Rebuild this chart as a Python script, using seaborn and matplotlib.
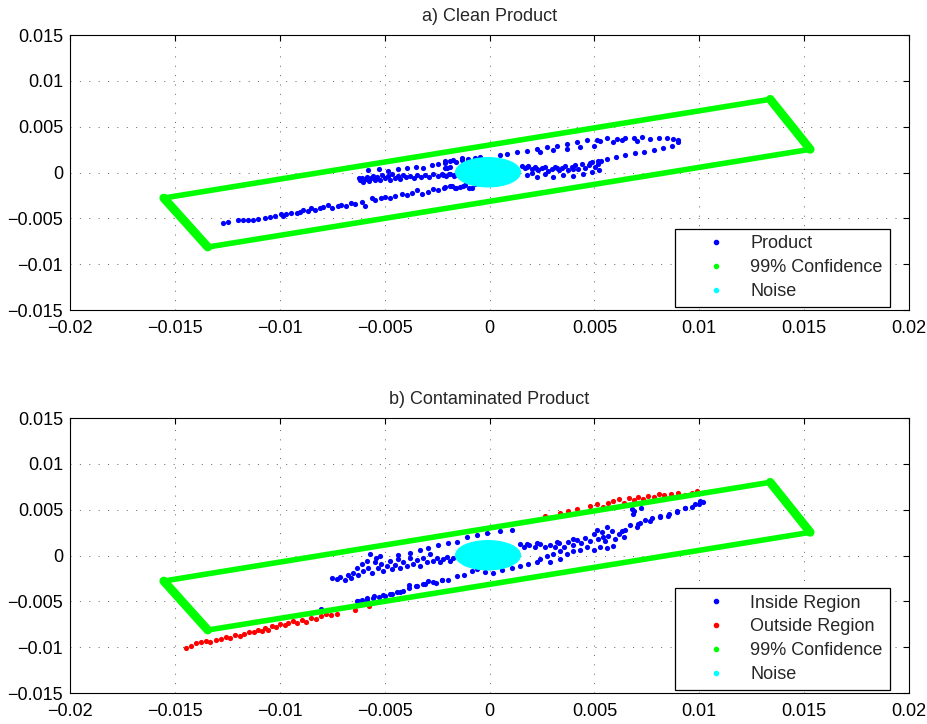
import numpy as np
import matplotlib
matplotlib.use("Agg")
import matplotlib.pyplot as plt
from matplotlib.lines import Line2D
from matplotlib.patches import Ellipse
from matplotlib.legend_handler import HandlerLine2D
import seaborn as sns

# ---------------------------------------------------------------- data
titles = ["a) Clean Product", "b) Contaminated Product"]

x_ticks = [-0.02, -0.015, -0.01, -0.005, 0, 0.005, 0.01, 0.015, 0.02]
x_tick_labels = ["\u22120.02", "\u22120.015", "\u22120.01", "\u22120.005", "0",
                 "0.005", "0.01", "0.015", "0.02"]
y_ticks = [-0.015, -0.01, -0.005, 0, 0.005, 0.01, 0.015]
y_tick_labels = ["\u22120.015", "\u22120.01", "\u22120.005", "0", "0.005", "0.01", "0.015"]

# 99% confidence boundary (parallelogram corners, closed)
conf_x = [-0.01553, -0.01343, 0.01529, 0.01338, -0.01553]
conf_y = [-0.00278, -0.00813, 0.00253, 0.00799, -0.00278]

# noise cloud: centre, full width, full height
noise_center = (-0.00007, 0.00003)
noise_width = 0.0031
noise_height = 0.0032

# a) clean product scores
product = [
    [-0.01270, -0.00547], [-0.01247, -0.00536], [-0.01199, -0.00522], [-0.01175, -0.00518],
    [-0.01151, -0.00515], [-0.01127, -0.00515], [-0.01103, -0.00507], [-0.01072, -0.00493],
    [-0.01048, -0.00486], [-0.01024, -0.00471], [-0.00992, -0.00456], [-0.00984, -0.00475],
    [-0.00968, -0.00449], [-0.00944, -0.00446], [-0.00920, -0.00438], [-0.00904, -0.00427],
    [-0.00889, -0.00409], [-0.00865, -0.00420], [-0.00849, -0.00391], [-0.00833, -0.00413],
    [-0.00809, -0.00391], [-0.00793, -0.00373], [-0.00769, -0.00355], [-0.00753, -0.00384],
    [-0.00722, -0.00362], [-0.00706, -0.00355], [-0.00682, -0.00362], [-0.00658, -0.00336],
    [-0.00642, -0.00344], [-0.00610, -0.00318], [-0.00594, -0.00362], [-0.00562, -0.00282],
    [-0.00547, -0.00300], [-0.00515, -0.00282], [-0.00499, -0.00264], [-0.00475, -0.00275],
    [-0.00451, -0.00253], [-0.00419, -0.00238], [-0.00395, -0.00245], [-0.00371, -0.00227],
    [-0.00348, -0.00191], [-0.00324, -0.00235], [-0.00292, -0.00209], [-0.00268, -0.00180],
    [-0.00244, -0.00191], [-0.00212, -0.00162], [-0.00181, -0.00147], [-0.00165, -0.00173],
    [-0.00141, -0.00155], [-0.00117, -0.00136], [-0.00085, -0.00165], [-0.00069, -0.00129],
    [-0.00037, -0.00118], [-0.00014, -0.00107],
    [-0.00217, -0.00165], [-0.00189, -0.00144], [-0.00160, -0.00173], [-0.00128, -0.00151],
    [-0.00096, -0.00165],
    [-0.00623, -0.00064], [-0.00617, -0.00085], [-0.00610, -0.00056], [-0.00601, -0.00100],
    [-0.00591, -0.00071], [-0.00582, -0.00045], [-0.00575, -0.00093], [-0.00566, -0.00064],
    [-0.00554, -0.00035], [-0.00547, -0.00078], [-0.00534, -0.00053], [-0.00523, -0.00085],
    [-0.00512, -0.00027], [-0.00499, -0.00064], [-0.00486, -0.00042], [-0.00475, -0.00078],
    [-0.00464, -0.00020], [-0.00451, -0.00056], [-0.00438, -0.00035], [-0.00426, -0.00071],
    [-0.00411, -0.00027], [-0.00397, -0.00053], [-0.00379, -0.00035], [-0.00362, -0.00064],
    [-0.00346, -0.00024], [-0.00327, -0.00045], [-0.00308, -0.00027], [-0.00289, -0.00049],
    [-0.00268, -0.00020], [-0.00247, -0.00038], [-0.00228, -0.00020], [-0.00206, -0.00035],
    [-0.00187, -0.00016], [-0.00168, -0.00031], [-0.00149, -0.00013],
    [-0.00578, 0.00027], [-0.00527, 0.00038], [-0.00483, 0.00016], [-0.00438, 0.00038],
    [-0.00391, 0.00045], [-0.00352, 0.00060], [-0.00316, 0.00053], [-0.00276, 0.00082],
    [-0.00244, 0.00096], [-0.00212, 0.00100], [-0.00187, 0.00125], [-0.00212, 0.00053],
    [-0.00161, 0.00111], [-0.00133, 0.00136], [-0.00101, 0.00147], [-0.00069, 0.00155],
    [-0.00189, 0.00060],
    [-0.00212, 0.00125], [-0.00173, 0.00140], [-0.00133, 0.00155], [0.00082, 0.00198],
    [0.00130, 0.00220], [0.00177, 0.00235], [0.00225, 0.00256], [0.00273, 0.00278],
    [0.00321, 0.00293], [0.00368, 0.00315], [0.00416, 0.00329], [0.00464, 0.00351],
    [0.00512, 0.00358], [0.00559, 0.00373], [0.00607, 0.00366], [0.00647, 0.00380],
    [0.00687, 0.00373], [0.00726, 0.00387], [0.00766, 0.00366], [0.00806, 0.00373],
    [0.00846, 0.00373], [0.00877, 0.00366], [0.00901, 0.00358], [0.00897, 0.00329],
    [-0.00045, 0.00169], [0.00050, 0.00191], [0.00241, 0.00220], [0.00305, 0.00246],
    [0.00368, 0.00256], [0.00432, 0.00278], [0.00496, 0.00293], [0.00527, 0.00344],
    [0.00591, 0.00329], [0.00631, 0.00351], [0.00702, 0.00344],
    [0.00869, 0.00293], [0.00827, 0.00264], [0.00785, 0.00249], [0.00737, 0.00227],
    [0.00694, 0.00213], [0.00647, 0.00191], [0.00604, 0.00169], [0.00559, 0.00147],
    [0.00515, 0.00125], [0.00480, 0.00100],
    [0.00154, 0.00075], [0.00169, 0.00045], [0.00185, 0.00067], [0.00201, 0.00035],
    [0.00217, 0.00056], [0.00233, 0.00024], [0.00249, 0.00045], [0.00265, 0.00064],
    [0.00281, 0.00016], [0.00297, 0.00042], [0.00313, 0.00060], [0.00329, 0.00024],
    [0.00344, 0.00045], [0.00360, 0.00067], [0.00376, 0.00031], [0.00392, 0.00056],
    [0.00408, 0.00078], [0.00424, 0.00038], [0.00440, 0.00089], [0.00456, 0.00053],
    [0.00472, 0.00082], [0.00488, 0.00111], [0.00504, 0.00064], [0.00519, 0.00096],
    [0.00531, 0.00125], [0.00177, 0.00056], [0.00225, 0.00042], [0.00321, 0.00049],
    [0.00400, 0.00042],
    [0.00181, -0.00027], [0.00225, -0.00049], [0.00265, -0.00020], [0.00305, -0.00049],
    [0.00352, -0.00027], [0.00400, -0.00035], [0.00445, -0.00013], [0.00488, 0.00002],
    [0.00524, 0.00024], [0.00201, -0.00009],
    [-0.00220, -0.00027], [-0.00192, -0.00013], [-0.00169, -0.00035], [-0.00204, 0.00045],
]

# b) contaminated product: scores inside the confidence region
inside = [
    [-0.00753, -0.00240], [-0.00729, -0.00259], [-0.00714, -0.00233], [-0.00690, -0.00270],
    [-0.00674, -0.00211], [-0.00658, -0.00240], [-0.00650, -0.00186], [-0.00634, -0.00131],
    [-0.00626, -0.00211], [-0.00610, -0.00094], [-0.00602, -0.00167], [-0.00586, -0.00058],
    [-0.00578, -0.00131], [-0.00570, 0.00022], [-0.00562, -0.00186], [-0.00547, -0.00076],
    [-0.00539, -0.00022], [-0.00531, -0.00131], [-0.00515, -0.00094], [-0.00507, -0.00167],
    [-0.00491, -0.00113], [-0.00475, -0.00058], [-0.00467, -0.00149], [-0.00451, -0.00102],
    [-0.00435, -0.00040], [-0.00427, -0.00131], [-0.00411, -0.00076], [-0.00392, -0.00113],
    [-0.00379, -0.00022], [-0.00364, -0.00094], [-0.00348, -0.00051], [-0.00332, -0.00113],
    [-0.00316, -0.00029], [-0.00300, -0.00076], [-0.00284, 0.00015], [-0.00268, -0.00058],
    [-0.00252, -0.00022], [-0.00236, -0.00076], [-0.00220, -0.00040], [-0.00204, -0.00014],
    [-0.00189, -0.00058], [-0.00173, -0.00022],
    [-0.00523, -0.00003], [-0.00435, 0.00008], [-0.00379, 0.00033], [-0.00332, 0.00059],
    [-0.00292, 0.00081], [-0.00244, 0.00117], [-0.00196, 0.00132], [-0.00157, 0.00146],
    [-0.00109, 0.00197], [-0.00061, 0.00223], [-0.00014, 0.00241], [0.00050, 0.00263],
    [0.00106, 0.00278],
    [-0.00085, -0.00167], [-0.00122, -0.00211], [-0.00157, -0.00226], [-0.00196, -0.00262],
    [-0.00228, -0.00270], [-0.00255, -0.00299], [-0.00292, -0.00277], [-0.00319, -0.00313],
    [-0.00351, -0.00335], [-0.00383, -0.00357], [-0.00411, -0.00386], [-0.00440, -0.00397],
    [-0.00472, -0.00415], [-0.00499, -0.00441], [-0.00526, -0.00452], [-0.00554, -0.00466],
    [-0.00583, -0.00481], [-0.00610, -0.00488], [-0.00634, -0.00496],
    [-0.00061, -0.00149], [-0.00021, -0.00175], [0.00018, -0.00186], [0.00058, -0.00160],
    [0.00106, -0.00131], [0.00146, -0.00113], [0.00185, -0.00094], [0.00225, -0.00076],
    [0.00289, -0.00076], [0.00241, -0.00040], [0.00336, -0.00040],
    [0.00146, 0.00124], [0.00165, 0.00088], [0.00190, 0.00110], [0.00217, 0.00088],
    [0.00241, 0.00124], [0.00265, 0.00095], [0.00289, 0.00117], [0.00313, 0.00088],
    [0.00333, 0.00132], [0.00356, 0.00095], [0.00376, 0.00143], [0.00397, 0.00110],
    [0.00416, 0.00168], [0.00435, 0.00132], [0.00456, 0.00190], [0.00477, 0.00154],
    [0.00496, 0.00234], [0.00515, 0.00183], [0.00535, 0.00252], [0.00551, 0.00154],
    [0.00567, 0.00216], [0.00583, 0.00263], [0.00599, 0.00179], [0.00615, 0.00234],
    [0.00631, 0.00263], [0.00639, 0.00205], [0.00591, 0.00106], [0.00559, 0.00081],
    [0.00527, 0.00095], [0.00496, 0.00059], [0.00464, 0.00088], [0.00432, 0.00059],
    [0.00400, 0.00044], [0.00368, 0.00022], [0.00336, 0.00051], [0.00305, 0.00015],
    [0.00273, -0.00003], [0.00177, 0.00131], [0.00225, 0.00132], [0.00321, 0.00146],
    [0.00400, 0.00179], [0.00512, 0.00278], [0.00562, 0.00314], [0.00541, 0.00197],
    [0.00671, 0.00336], [0.00710, 0.00343], [0.00742, 0.00387], [0.00774, 0.00409],
    [0.00814, 0.00431], [0.00854, 0.00453], [0.00893, 0.00489], [0.00933, 0.00518],
    [0.00965, 0.00533], [0.00997, 0.00562], [0.01017, 0.00584], [0.00687, 0.00482],
    [0.00722, 0.00518], [0.00647, 0.00278],
    [0.01005, 0.00598], [0.00981, 0.00562], [0.00933, 0.00519], [0.00894, 0.00470],
    [0.00853, 0.00434], [0.00814, 0.00416], [0.00766, 0.00380], [0.00718, 0.00353],
    [0.00703, 0.00307], [0.00686, 0.00453], [0.00679, 0.00508],
    [-0.00626, -0.00496], [-0.00586, -0.00466], [-0.00551, -0.00445], [-0.00507, -0.00430],
    [-0.00467, -0.00423], [-0.00427, -0.00394], [-0.00383, -0.00321], [-0.00348, -0.00335],
    [-0.00308, -0.00313], [-0.00268, -0.00291], [-0.00228, -0.00270], [-0.00801, -0.00587],
]

# b) contaminated product: scores outside the confidence region
outside = [
    [-0.01445, -0.01013], [-0.01422, -0.00988], [-0.01401, -0.00955], [-0.01374, -0.00948],
    [-0.01353, -0.00933], [-0.01331, -0.00941], [-0.01305, -0.00926], [-0.01278, -0.00915],
    [-0.01258, -0.00890], [-0.01235, -0.00897], [-0.01213, -0.00868], [-0.01191, -0.00879],
    [-0.01172, -0.00853], [-0.01146, -0.00831], [-0.01124, -0.00838], [-0.01103, -0.00809],
    [-0.01086, -0.00824], [-0.01070, -0.00787], [-0.01054, -0.00809], [-0.01035, -0.00773],
    [-0.01016, -0.00780], [-0.00997, -0.00751], [-0.00976, -0.00762], [-0.00959, -0.00733],
    [-0.00939, -0.00714], [-0.00917, -0.00736], [-0.00895, -0.00707], [-0.00873, -0.00722],
    [-0.00849, -0.00685], [-0.00825, -0.00696], [-0.00801, -0.00660], [-0.00780, -0.00642],
    [-0.00758, -0.00649], [-0.00726, -0.00634], [-0.00642, -0.00598], [-0.00574, -0.00554],
    [0.00265, 0.00434], [0.00336, 0.00460], [0.00376, 0.00489], [0.00416, 0.00504],
    [0.00480, 0.00540], [0.00512, 0.00562], [0.00543, 0.00526], [0.00567, 0.00569],
    [0.00591, 0.00591], [0.00615, 0.00613], [0.00639, 0.00577], [0.00663, 0.00628],
    [0.00690, 0.00606], [0.00710, 0.00642], [0.00734, 0.00613], [0.00758, 0.00650],
    [0.00782, 0.00635], [0.00807, 0.00671], [0.00830, 0.00657], [0.00865, 0.00671],
    [0.00901, 0.00679], [0.00933, 0.00664], [0.00965, 0.00686], [0.00989, 0.00701],
]

BLUE, RED, GREEN, CYAN = "#0000ff", "#ff0000", "#00ff00", "#00ffff"

# ---------------------------------------------------------------- style
sns.set_theme(style="white")
plt.rcParams["font.family"] = ["Liberation Sans", "DejaVu Sans"]
plt.rcParams["axes.unicode_minus"] = True

fig = plt.figure(figsize=(9.27, 7.24), dpi=100)
ax_top = fig.add_axes([0.0755, 0.5718, 0.9051, 0.3798])
ax_bot = fig.add_axes([0.0755, 0.0428, 0.9051, 0.3798])


def draw_confidence(ax):
    # long sides of the region, then the heavier short ends
    sns.lineplot(x=conf_x, y=conf_y, sort=False, estimator=None, color=GREEN,
                 linewidth=4.0, solid_capstyle="round", solid_joinstyle="round",
                 ax=ax, zorder=3, legend=False)
    for a, b in ((0, 2), (2, 4)):
        sns.lineplot(x=conf_x[a:b], y=conf_y[a:b], sort=False, estimator=None,
                     color=GREEN, linewidth=6.3, solid_capstyle="round",
                     ax=ax, zorder=3, legend=False)


def draw_noise(ax):
    ax.add_patch(Ellipse(noise_center, noise_width, noise_height,
                         facecolor=CYAN, edgecolor=CYAN, linewidth=0.8, zorder=4))


def scatter(ax, pts, color):
    arr = np.asarray(pts)
    sns.scatterplot(x=arr[:, 0], y=arr[:, 1], color=color, s=14, linewidth=0,
                    ax=ax, zorder=2, legend=False)


def style_axes(ax, title):
    ax.set_xlim(-0.02, 0.02)
    ax.set_ylim(-0.015, 0.015)
    ax.set_xticks(x_ticks)
    ax.set_xticklabels(x_tick_labels)
    ax.set_yticks(y_ticks)
    ax.set_yticklabels(y_tick_labels)
    ax.tick_params(direction="in", length=4, width=0.8, colors="black",
                   labelsize=13, top=True, right=True)
    ax.tick_params(axis="x", pad=7)
    ax.tick_params(axis="y", pad=5)
    ax.grid(True, color="0.2", linewidth=0.5, linestyle=(0, (1.5, 12)))
    ax.set_axisbelow(True)
    for sp in ax.spines.values():
        sp.set_color("black")
        sp.set_linewidth(0.8)
        sp.set_visible(True)
    ax.set_title(title, fontsize=13, pad=10)


def legend(ax, entries):
    handles = [Line2D([0], [0], marker="o", markersize=3, linestyle="none",
                      color=c, label=l) for l, c in entries]
    leg = ax.legend(handles=handles, loc="lower right",
                    bbox_to_anchor=(0.977, 0.012), fontsize=13, frameon=True,
                    fancybox=False, edgecolor="black", framealpha=1,
                    handlelength=3.0, handletextpad=0.8, labelspacing=0.37,
                    borderpad=0.38, borderaxespad=0,
                    handler_map={Line2D: HandlerLine2D(xpad=0.74)})
    leg.get_frame().set_linewidth(0.9)


# a) clean product
scatter(ax_top, product, BLUE)
draw_confidence(ax_top)
draw_noise(ax_top)
style_axes(ax_top, titles[0])
legend(ax_top, [("Product", BLUE), ("99% Confidence", GREEN), ("Noise", CYAN)])

# b) contaminated product
scatter(ax_bot, inside, BLUE)
scatter(ax_bot, outside, RED)
draw_confidence(ax_bot)
draw_noise(ax_bot)
style_axes(ax_bot, titles[1])
legend(ax_bot, [("Inside Region", BLUE), ("Outside Region", RED),
                ("99% Confidence", GREEN), ("Noise", CYAN)])

fig.savefig("out.png", dpi=100)
